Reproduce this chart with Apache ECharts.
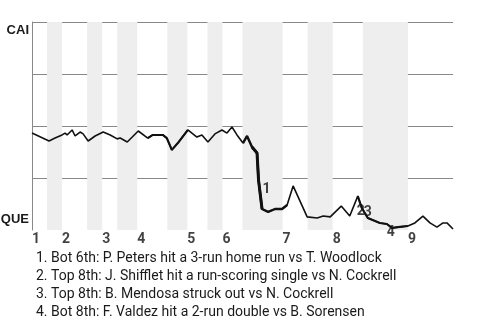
<!DOCTYPE html>
<html>
<head>
<meta charset="utf-8">
<script src="https://cdn.jsdelivr.net/npm/echarts@6/dist/echarts.min.js"></script>
<style>html,body{margin:0;padding:0;background:#fff}#c{width:480px;height:320px}</style>
</head>
<body>
<div id="c"></div>
<script>
// Innings labels and where each inning starts (play index)
const innings = ['1','2','3','4','5','6','7','8','9'];
const inningStart = [0, 6, 14, 21, 31, 38, 50, 60, 75];
// Bottom halves of innings (shaded bands), play index ranges
const bottomHalves = [[3,6],[11,14],[17,21],[27,31],[35,38],[42,50],[55,60],[66,75]];
const playMax = 84;
// Play positions and CAI win probability
const playX = [0,3.4,4.6,6.0,6.6,7.0,8.0,8.6,9.6,10.2,11.2,12.6,14.2,15.6,17.0,17.6,19.0,20.0,21.2,23.1,24.1,26.1,26.9,27.9,29.1,31.1,32.9,33.9,35.1,36.5,37.9,38.9,39.9,40.9,42.1,42.9,43.9,44.9,45.2,45.9,47.1,48.5,49.9,50.9,52.1,54.9,56.9,58.1,59.5,61.7,63.4,65.0,65.8,67.0,69.4,70.8,71.8,73.0,75.0,76.4,78.0,79.4,80.8,82.0,82.8,84.0];
const winProb = [0.466,0.428,0.442,0.457,0.466,0.457,0.481,0.452,0.471,0.462,0.428,0.452,0.471,0.457,0.438,0.442,0.423,0.447,0.476,0.442,0.457,0.457,0.442,0.385,0.418,0.481,0.447,0.457,0.423,0.462,0.481,0.466,0.495,0.457,0.418,0.452,0.399,0.370,0.240,0.101,0.087,0.101,0.101,0.120,0.212,0.063,0.058,0.067,0.063,0.115,0.067,0.163,0.106,0.058,0.034,0.029,0.010,0.014,0.019,0.034,0.067,0.034,0.014,0.034,0.034,0.005];
// Key events
const eventIdx = [38, 52, 53, 56];
const eventLabels = ['1','2','3','4'];
const eventNotes = [
  '1. Bot 6th: P. Peters hit a 3-run home run vs T. Woodlock',
  '2. Top 8th: J. Shifflet hit a run-scoring single vs N. Cockrell',
  '3. Top 8th: B. Mendosa struck out vs N. Cockrell',
  '4. Bot 8th: F. Valdez hit a 2-run double vs B. Sorensen'
];
const teamTop = 'CAI', teamBottom = 'QUE';

const pts = playX.map((x,i)=>[x, winProb[i]]);
const seg = (a,b)=>pts.slice(a,b+1);
const evOffsets = [[8,9],[-1,4],[0,-5],[-1,5]];

const chart = echarts.init(document.getElementById('c'), null, {renderer:'canvas'});
chart.setOption({
  animation:false,
  title:{
    text: eventNotes.join('\n'),
    left: 31, top: 245,
    textStyle:{fontFamily:'Roboto', fontSize:14, fontWeight:'normal', color:'#1a1a1a', lineHeight:17.8}
  },
  grid:{left:32, right:27, top:22, bottom:90, outerBoundsMode:'none', containLabel:false},
  xAxis:{type:'value', min:0, max:playMax, axisLine:{show:false}, axisTick:{show:false}, axisLabel:{show:false}, splitLine:{show:false}},
  yAxis:{type:'value', min:0, max:1, interval:0.25,
    axisLine:{show:true, lineStyle:{color:'#888', width:1}},
    axisTick:{show:false},
    splitLine:{show:true, lineStyle:{color:['rgba(0,0,0,0)','#888','#888','#888','#888'], width:1}},
    axisLabel:{
      margin:3,
      formatter:v=> v===1 ? '{t|'+teamTop+'}' : (v===0 ? '{b|'+teamBottom+'}' : ''),
      rich:{
        t:{fontFamily:'Liberation Sans', fontSize:13, fontWeight:'bold', color:'#1a1a1a', padding:[17,0,0,0]},
        b:{fontFamily:'Liberation Sans', fontSize:13, fontWeight:'bold', color:'#1a1a1a', padding:[0,0,21,0]}
      }
    }
  },
  series:[
    {type:'line', data:[], z:1, silent:true,
     markArea:{silent:true, itemStyle:{color:'#eeeeee', opacity:1}, data: bottomHalves.map(r=>[{xAxis:r[0]},{xAxis:r[1]}])}},
    {type:'line', data:pts, z:3, showSymbol:false, lineStyle:{color:'#111', width:1.6}},
    {type:'line', data:seg(19,25), z:4, showSymbol:false, lineStyle:{color:'#111', width:2.1}},
    {type:'line', data:seg(34,43), z:4, showSymbol:false, lineStyle:{color:'#111', width:2.4}},
    {type:'line', data:seg(36,39), z:4, showSymbol:false, lineStyle:{color:'#111', width:3}},
    {type:'line', data:seg(51,58), z:4, showSymbol:false, lineStyle:{color:'#111', width:2.1}},
    {type:'scatter', z:6, symbolSize:0, silent:true,
     data: inningStart.map((x,i)=>({value:[x,0], label:{formatter:innings[i]}})),
     label:{show:true, position:'bottom', distance:2, align:'left', fontFamily:'Roboto', fontSize:14, fontWeight:'bold', color:'#111'}},
    {type:'scatter', z:7, symbolSize:0, silent:true,
     data: eventIdx.map((k,i)=>({value:pts[k], label:{formatter:eventLabels[i], offset:evOffsets[i]}})),
     label:{show:true, position:'inside', fontFamily:'Roboto', fontSize:14, fontWeight:'bold', color:'#111'}}
  ]
});
</script>
</body>
</html>
